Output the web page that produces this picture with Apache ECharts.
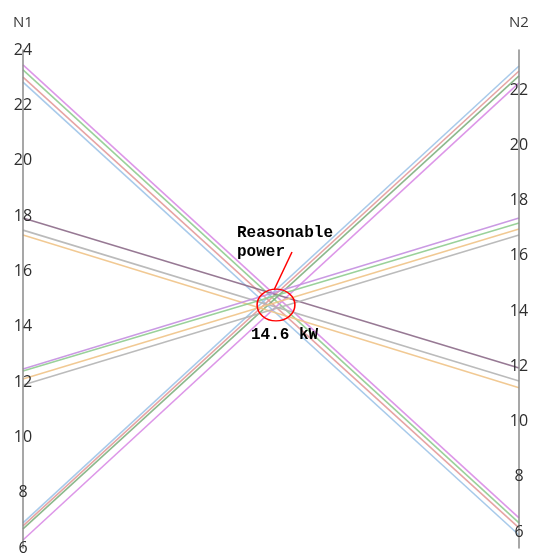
<!DOCTYPE html>
<html>
<head>
<meta charset="utf-8">
<script src="https://cdn.jsdelivr.net/npm/echarts@6/dist/echarts.min.js"></script>
<style>
  html, body { margin: 0; padding: 0; background: #fff; }
  #chart { width: 534px; height: 556px; }
</style>
</head>
<body>
<div id="chart"></div>
<script>
    var dimNames = ['N1', 'N2'];
    // value of every line on N1 and on N2
    var n1Values = [23.46, 23.28, 23.02, 22.84,  6.29, 6.69, 6.80, 6.91,  17.93, 17.49, 17.31,  12.47, 12.40, 12.11, 11.89];
    var n2Values = [ 6.51,  6.33,  6.15,  5.89, 22.26, 22.51, 22.69, 22.87,  11.94, 11.47, 11.22,  17.37, 17.19, 16.97, 16.75];
    var lineColors = ['#d98ce6', '#8fcc8f', '#e39a9a', '#9ec4e8',
                      '#d98ce6', '#7fb07f', '#e39a9a', '#9ec4e8',
                      '#8c6a88', '#b4b4b4', '#f0c387',
                      '#c48fe0', '#8fcc8f', '#f0c387', '#b4b4b4'];
    var annotationText = 'Reasonable\npower';
    var powerText = '14.6 kW';

    var chart = echarts.init(document.getElementById('chart'));

    var seriesList = [];
    for (var i = 0; i < n1Values.length; i++) {
        seriesList.push({
            type: 'parallel',
            silent: true,
            lineStyle: { color: lineColors[i], width: 1.6, opacity: 0.9 },
            data: [[n1Values[i], n2Values[i]]]
        });
    }

    var axisCommon = {
        nameLocation: 'end',
        nameGap: 20,
        nameTextStyle: { color: '#3a3a3a', fontSize: 15, fontFamily: 'Open Sans' },
        axisLine: { lineStyle: { color: '#8a8a8a', width: 1.5 } },
        axisTick: { show: false },
        splitLine: { show: false },
        axisLabel: {
            margin: 0,
            align: 'center',
            color: '#2e2e2e',
            fontSize: 16,
            fontFamily: 'Open Sans'
        }
    };

    var option = {
        animation: false,
        backgroundColor: '#fff',
        parallel: {
            left: 23,
            right: 15,
            top: 50,
            bottom: 8,
            layout: 'horizontal'
        },
        parallelAxis: [
            echarts.util.merge({ dim: 0, name: dimNames[0], min: 6, max: 24, interval: 2 }, axisCommon, true),
            echarts.util.merge({
                dim: 1, name: dimNames[1], min: 5.42, max: 23.45, splitNumber: 9,
                axisLabel: { showMinLabel: false, showMaxLabel: false }
            }, axisCommon, false)
        ],
        graphic: [
            {
                type: 'circle',
                x: 276, y: 305,
                scaleX: 1.05,
                scaleY: 0.88,
                shape: { cx: 0, cy: 0, r: 18 },
                style: { fill: 'none', stroke: '#ff0000', lineWidth: 1.5 },
                z: 100
            },
            {
                type: 'line',
                shape: { x1: 292, y1: 252, x2: 274, y2: 290 },
                style: { stroke: '#ff0000', lineWidth: 1.5 },
                z: 100
            },
            {
                type: 'text',
                x: 237, y: 223,
                style: {
                    text: annotationText,
                    font: 'bold 16px "Liberation Mono"',
                    lineHeight: 19,
                    fill: '#000'
                },
                z: 100
            },
            {
                type: 'text',
                x: 251, y: 327,
                style: {
                    text: powerText,
                    font: 'bold 16px "Liberation Mono"',
                    fill: '#000'
                },
                z: 100
            }
        ],
        series: seriesList
    };

    chart.setOption(option);
</script>
</body>
</html>
